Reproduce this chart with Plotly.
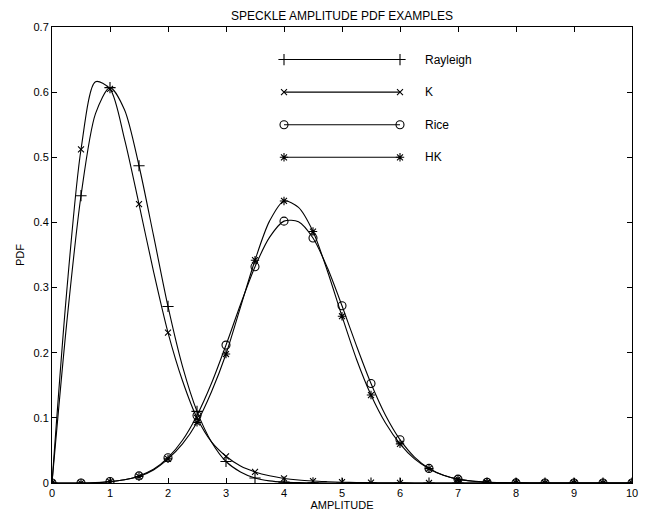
import plotly.graph_objects as go

# ---------------- data ----------------
amplitude = [0, 0.25, 0.5, 0.75, 1, 1.25, 1.5, 1.75, 2, 2.25, 2.5, 2.75, 3, 3.25, 3.5, 3.75,
             4, 4.25, 4.5, 4.75, 5, 5.25, 5.5, 5.75, 6, 6.25, 6.5, 6.75, 7, 7.25, 7.5, 7.75,
             8, 8.25, 8.5, 8.75, 9, 9.25, 9.5, 9.75, 10]

rayleigh = [0, 0.242, 0.441, 0.567, 0.607, 0.573, 0.487, 0.380, 0.271, 0.179, 0.110, 0.063,
            0.033, 0.017, 0.0077, 0.0033, 0.0013, 0.0005, 0.0002, 0.0001, 0, 0, 0, 0, 0, 0,
            0, 0, 0, 0, 0, 0, 0, 0, 0, 0, 0, 0, 0, 0, 0]

k_dist = [0, 0.290, 0.512, 0.616, 0.605, 0.528, 0.428, 0.325, 0.231, 0.157, 0.100, 0.063,
          0.041, 0.026, 0.017, 0.011, 0.007, 0.0045, 0.003, 0.002, 0.0012, 0.0008, 0.0005,
          0.0003, 0.0002, 0.0001, 0, 0, 0, 0, 0, 0, 0, 0, 0, 0, 0, 0, 0, 0, 0]

rice = [0, 0, 0, 0.0005, 0.0023, 0.005, 0.0109, 0.021, 0.0388, 0.0656, 0.1037, 0.153,
        0.2117, 0.274, 0.332, 0.377, 0.402, 0.401, 0.376, 0.330, 0.272, 0.2105, 0.1527,
        0.104, 0.0665, 0.0398, 0.0224, 0.0119, 0.0059, 0.0027, 0.0012, 0.0005, 0.0002,
        0.0001, 0, 0, 0, 0, 0, 0, 0]

hk = [0, 0, 0, 0.0004, 0.002, 0.005, 0.010, 0.020, 0.037, 0.060, 0.093, 0.140, 0.198,
      0.270, 0.342, 0.402, 0.433, 0.423, 0.386, 0.325, 0.256, 0.190, 0.135, 0.092, 0.060,
      0.037, 0.022, 0.012, 0.006, 0.003, 0.0013, 0.0005, 0.0002, 0.0001, 0, 0, 0, 0, 0, 0, 0]

series_names = ["Rayleigh", "K", "Rice", "HK"]
series_values = [rayleigh, k_dist, rice, hk]
series_symbols = ["cross-thin-open", "x-thin-open", "circle-open", "asterisk-open"]
series_sizes = [8, 6, 8, 7]

# legend drawn inside the axes (data coordinates), as in the original
legend_x = [4, 6]
legend_y = [0.65, 0.60, 0.55, 0.50]
legend_text_x = 6.4

x_ticks = list(range(0, 11))
y_ticks = [0, 0.1, 0.2, 0.3, 0.4, 0.5, 0.6, 0.7]
y_tick_labels = ["0", "0.1", "0.2", "0.3", "0.4", "0.5", "0.6", "0.7"]

# ---------------- figure ----------------
fig = go.Figure()
FONT = "Liberation Sans, Arial, Helvetica, sans-serif"

for name, vals, sym, sz in zip(series_names, series_values, series_symbols, series_sizes):
    fig.add_trace(go.Scatter(
        x=amplitude, y=vals, mode="lines",
        line=dict(color="black", width=1.1, shape="spline", smoothing=0.8),
        showlegend=False, hoverinfo="skip"))
    fig.add_trace(go.Scatter(
        x=amplitude[::2], y=vals[::2], mode="markers", name=name,
        marker=dict(symbol=sym, size=sz, color="black", line=dict(color="black", width=1.1)),
        showlegend=False))

for name, ly, sym, sz in zip(series_names, legend_y, series_symbols, series_sizes):
    fig.add_trace(go.Scatter(
        x=legend_x, y=[ly, ly], mode="lines+markers",
        line=dict(color="black", width=1.1),
        marker=dict(symbol=sym, size=sz, color="black", line=dict(color="black", width=1.1)),
        showlegend=False, hoverinfo="skip"))
    fig.add_annotation(x=legend_text_x, y=ly, text=name, showarrow=False,
                       xanchor="left", yanchor="middle",
                       font=dict(family=FONT, size=12, color="black"))

axis_common = dict(showline=True, linecolor="black", linewidth=1, mirror="ticks",
                   ticks="inside", ticklen=5, tickcolor="black", showgrid=False,
                   zeroline=False, automargin=False,
                   tickfont=dict(family=FONT, size=11, color="black"))

fig.update_xaxes(range=[0, 10], tickvals=x_ticks, ticktext=[str(t) for t in x_ticks],
                 title=dict(text="AMPLITUDE", font=dict(family=FONT, size=11, color="black"),
                            standoff=2),
                 **axis_common)
fig.update_yaxes(range=[0, 0.7], tickvals=y_ticks, ticktext=y_tick_labels,
                 title=dict(text="PDF", font=dict(family=FONT, size=11, color="black"),
                            standoff=6),
                 **axis_common)

# the page adds an 8px body margin; the figure is sized/offset to compensate
fig.update_layout(
    width=640, height=511,
    margin=dict(l=44, r=16, t=19, b=36),
    paper_bgcolor="white", plot_bgcolor="white",
    title=dict(text="SPECKLE AMPLITUDE PDF EXAMPLES", x=0.5, xanchor="center",
               xref="paper", yref="container", y=0.984, yanchor="middle",
               pad=dict(t=0, b=0, l=0, r=0),
               font=dict(family=FONT, size=12, color="black")),
)

fig.write_html("out.html")
